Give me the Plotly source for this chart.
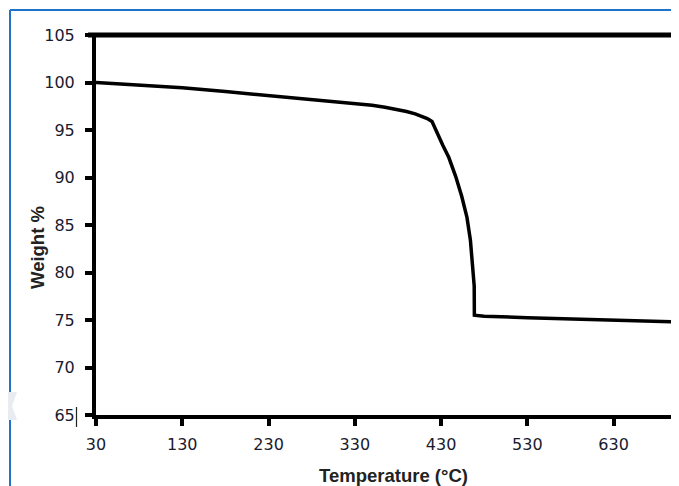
import plotly.graph_objects as go

temperature = [30, 80, 130, 180, 230, 280, 330, 350, 365, 380, 390, 400, 408, 414, 419.5,
               425, 432, 439, 447, 454, 460, 464, 467, 468, 468.4, 468.6, 480, 530, 580, 630, 700]
weight = [100.0, 99.7, 99.45, 99.05, 98.65, 98.25, 97.8, 97.6, 97.4, 97.15, 96.95, 96.7,
          96.45, 96.2, 95.9, 94.7, 93.4, 92.1, 90.1, 88.0, 85.8, 83.4, 80.5, 79.0, 78.6,
          75.5, 75.4, 75.25, 75.1, 75.0, 74.8]

x_ticks = [30, 130, 230, 330, 430, 530, 630]
y_ticks = [65, 70, 75, 80, 85, 90, 95, 100, 105]

# the page body has an 8px margin, so the figure sits at (8, 8)
OFF = 8
FW, FH = 679 - OFF, 486 - OFF
L, R, T, B = 88, 5, 27, 71
W, H = FW - L - R, FH - T - B

def px(x):  # page pixel -> paper x
    return (x - OFF - L) / W

def py(y):  # page pixel -> paper y
    return (FH - B - (y - OFF)) / H

fig = go.Figure()
fig.add_trace(go.Scatter(x=temperature, y=weight, mode="lines",
                         line=dict(color="black", width=3.5), showlegend=False))

tickfont = dict(family="DejaVu Sans", size=16, color="#1a1a2e")
fig.update_layout(
    width=FW, height=FH,
    margin=dict(l=L, r=R, t=T, b=B),
    paper_bgcolor="white", plot_bgcolor="white",
    xaxis=dict(range=[30, 700], tickvals=x_ticks, ticktext=[str(v) for v in x_ticks],
               showgrid=False, zeroline=False, showline=True, linecolor="black", linewidth=4,
               ticks="outside", ticklen=7, tickwidth=4, tickcolor="black",
               tickfont=tickfont, ticklabelstandoff=5),
    yaxis=dict(range=[65, 105], tickvals=y_ticks, ticktext=[str(v) for v in y_ticks],
               showgrid=False, zeroline=False, showline=True, linecolor="black", linewidth=4,
               ticks="outside", ticklen=7, tickwidth=4, tickcolor="black",
               tickfont=tickfont, ticklabelstandoff=7),
    annotations=[
        dict(text="<b>Temperature (°C)</b>", xref="paper", yref="paper",
             x=px(393), y=py(475), xanchor="center", yanchor="middle", showarrow=False,
             font=dict(family="Liberation Sans", size=18.5, color="#222")),
        dict(text="<b>Weight %</b>", xref="paper", yref="paper",
             x=px(37.5), y=py(247.5), xanchor="center", yanchor="middle", showarrow=False,
             textangle=-90, font=dict(family="Liberation Sans", size=18.5, color="#222")),
    ],
    shapes=[
        # top and right frame
        dict(type="line", xref="paper", yref="paper", x0=px(88), x1=px(676), y0=1, y1=1,
             line=dict(color="black", width=5)),
        dict(type="line", xref="paper", yref="paper", x0=1, x1=1, y0=py(417), y1=1,
             line=dict(color="black", width=4)),
        # blue image frame
        dict(type="line", xref="paper", yref="paper", x0=px(10), x1=px(679), y0=py(10), y1=py(10),
             line=dict(color="#1f74c9", width=2)),
        dict(type="line", xref="paper", yref="paper", x0=px(10), x1=px(10), y0=py(10), y1=py(486),
             line=dict(color="#1f74c9", width=2)),
        # small cursor mark after 65
        dict(type="line", xref="paper", yref="paper", x0=px(76.5), x1=px(76.5), y0=py(407), y1=py(427),
             line=dict(color="#222", width=1.2)),
        # faint watermark fragment
        dict(type="path", xref="paper", yref="paper",
             path=f"M {px(8)},{py(392)} L {px(17)},{py(392)} L {px(12)},{py(406)} L {px(17)},{py(420)} L {px(8)},{py(420)} Z",
             fillcolor="#e8ebef", line=dict(width=0)),
    ],
)

fig.write_html("out.html")
